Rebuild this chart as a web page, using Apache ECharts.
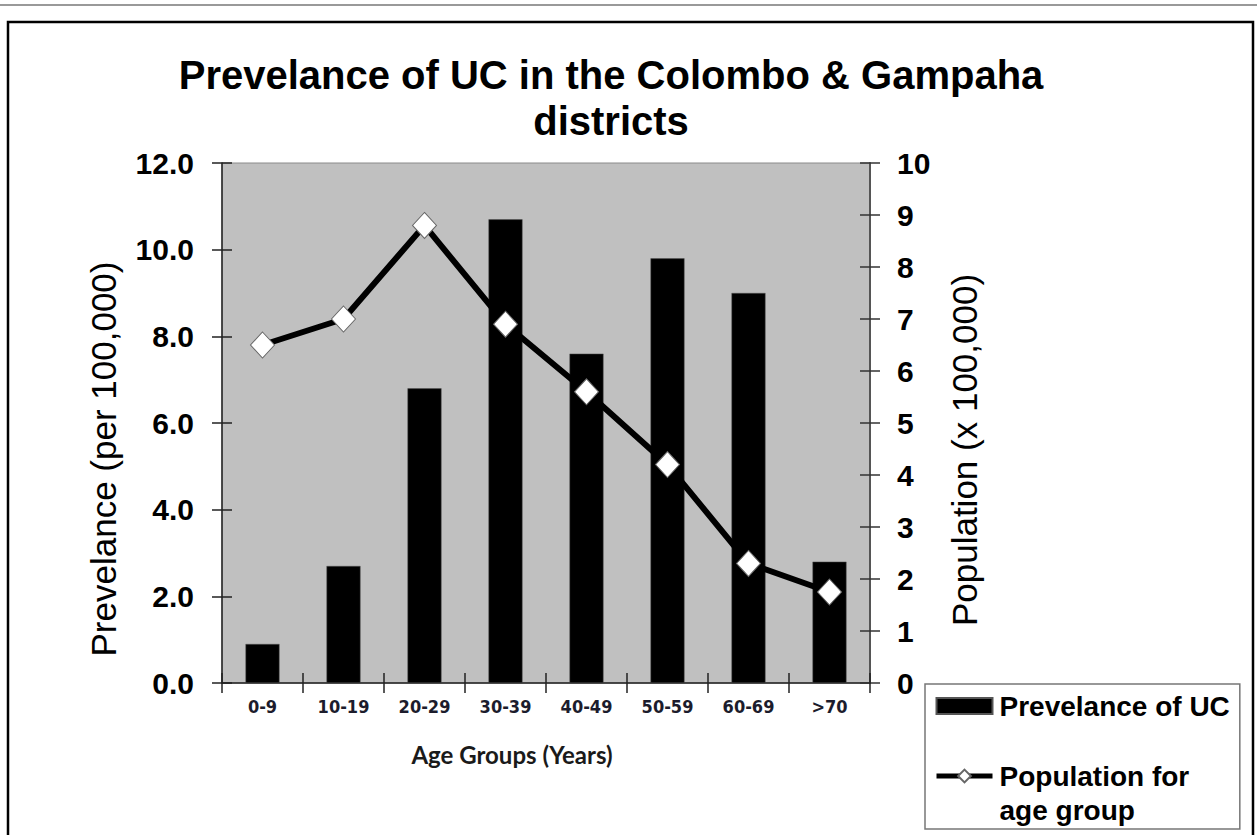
<!DOCTYPE html>
<html>
<head>
<meta charset="utf-8">
<title>Prevelance of UC</title>
<script src="https://cdn.jsdelivr.net/npm/echarts@6/dist/echarts.min.js"></script>
<style>
  html, body { margin: 0; padding: 0; background: #fff; }
  #chart { width: 1257px; height: 835px; }
</style>
</head>
<body>
<div id="chart"></div>
<script>
// 年龄组
var categories = ['0-9', '10-19', '20-29', '30-39', '40-49', '50-59', '60-69', '>70'];
// 患病率 (per 100,000) - left axis
var prevalence = [0.9, 2.7, 6.8, 10.7, 7.6, 9.8, 9.0, 2.8];
// 人口 (x 100,000) - right axis
var population = [6.5, 7.0, 8.8, 6.9, 5.6, 4.2, 2.3, 1.75];

var barName = 'Prevelance of UC';
var lineName = 'Population for age group';

window.onload = function () {
    var chart = echarts.init(document.getElementById('chart'), null, { renderer: 'svg' });

    var arial = "'Liberation Sans', Arial, sans-serif";
    var narrow = "'DejaVu Sans Condensed', 'Liberation Sans Narrow', sans-serif";

    var option = {
        backgroundColor: '#fff',
        animation: false,
        title: [
            {
                text: 'Prevelance of UC in the Colombo & Gampaha\ndistricts',
                left: 611,
                top: 52,
                padding: 0,
                textAlign: 'center',
                textStyle: { fontFamily: arial, fontWeight: 'bold', fontSize: 40, lineHeight: 46, color: '#000' }
            },
            {
                text: 'Age Groups (Years)',
                left: 512,
                top: 742,
                padding: 0,
                textAlign: 'center',
                textStyle: { fontFamily: 'Lato, sans-serif', fontWeight: 'bold', fontSize: 24, color: '#1a1a1a' }
            }
        ],
        grid: {
            left: 222, right: 387, top: 163, bottom: 152,
            show: true,
            backgroundColor: '#c0c0c0',
            borderColor: '#8a8a8a',
            borderWidth: 1,
            outerBoundsMode: 'none'
        },
        legend: {
            orient: 'vertical',
            left: 925,
            top: 684,
            height: 400,
            padding: [5, 10, 2, 9],
            itemGap: 2,
            itemWidth: 56,
            itemHeight: 16,
            borderColor: '#777',
            borderWidth: 1.5,
            backgroundColor: '#fff',
            lineStyle: { width: 5 },
            textStyle: { fontFamily: arial, fontWeight: 'bold', fontSize: 28, lineHeight: 34, color: '#000', padding: [0, 0, 0, 2] },
            formatter: function (name) {
                // 第二项分两行显示，图标对齐第一行
                return name === lineName ? '\nPopulation for\nage group' : name;
            },
            data: [{ name: barName, icon: 'rect' }, { name: lineName }]
        },
        xAxis: [
            {
                type: 'category',
                data: categories,
                position: 'bottom',
                axisLine: { lineStyle: { color: '#222', width: 1.5 } },
                axisTick: { show: true, inside: false, length: 10, lineStyle: { color: '#222', width: 1.5 } },
                axisLabel: { fontFamily: narrow, fontWeight: 'bold', fontSize: 18, color: '#1c1c2c', margin: 14, interval: 0 },
                splitLine: { show: false }
            },
            {
                // 向内的刻度（十字刻度）
                type: 'category',
                data: categories,
                position: 'bottom',
                axisLine: { show: false },
                axisTick: { show: true, inside: true, length: 10, lineStyle: { color: '#222', width: 1.5 } },
                axisLabel: { show: false },
                splitLine: { show: false }
            }
        ],
        yAxis: [
            {
                type: 'value',
                position: 'left',
                min: 0, max: 12, interval: 2,
                name: 'Prevelance (per 100,000)',
                nameLocation: 'middle',
                nameGap: 101,
                nameRotate: 90,
                nameTextStyle: { fontFamily: arial, fontSize: 35, color: '#000', padding: [0, 72, 0, 0] },
                axisLine: { show: true, lineStyle: { color: '#222', width: 1.5 } },
                axisTick: { show: true, inside: false, length: 10, lineStyle: { color: '#222', width: 1.5 } },
                axisLabel: {
                    fontFamily: arial, fontWeight: 'bold', fontSize: 30, color: '#000', margin: 28,
                    formatter: function (v) { return v.toFixed(1); }
                },
                splitLine: { show: false }
            },
            {
                type: 'value',
                position: 'right',
                min: 0, max: 10, interval: 1,
                name: 'Population (x 100,000)',
                nameLocation: 'middle',
                nameGap: 77,
                nameRotate: 90,
                nameTextStyle: { fontFamily: arial, fontSize: 35, color: '#000', padding: [0, 54, 0, 0] },
                axisLine: { show: true, lineStyle: { color: '#555', width: 2 } },
                axisTick: { show: true, inside: false, length: 10, lineStyle: { color: '#333', width: 1.5 } },
                axisLabel: { fontFamily: arial, fontWeight: 'bold', fontSize: 30, color: '#000', margin: 27 },
                splitLine: { show: false }
            },
            {
                type: 'value',
                position: 'left',
                min: 0, max: 12, interval: 2,
                axisLine: { show: false },
                axisTick: { show: true, inside: true, length: 10, lineStyle: { color: '#222', width: 1.5 } },
                axisLabel: { show: false },
                splitLine: { show: false }
            },
            {
                type: 'value',
                position: 'right',
                min: 0, max: 10, interval: 1,
                axisLine: { show: false },
                axisTick: { show: true, inside: true, length: 10, lineStyle: { color: '#333', width: 1.5 } },
                axisLabel: { show: false },
                splitLine: { show: false }
            }
        ],
        series: [
            {
                name: barName,
                type: 'bar',
                xAxisIndex: 0,
                yAxisIndex: 0,
                barWidth: 34,
                itemStyle: { color: '#000', borderColor: '#555', borderWidth: 0.5 },
                data: prevalence
            },
            {
                name: lineName,
                type: 'line',
                xAxisIndex: 0,
                yAxisIndex: 1,
                symbol: 'diamond',
                symbolSize: [24, 26],
                lineStyle: { color: '#000', width: 6 },
                itemStyle: { color: '#fff', borderColor: '#666', borderWidth: 1 },
                z: 5,
                data: population
            }
        ],
        graphic: [
            {
                type: 'line',
                shape: { x1: 0, y1: 5, x2: 1257, y2: 5 },
                style: { stroke: '#777', lineWidth: 1.5 },
                silent: true
            },
            {
                type: 'rect',
                shape: { x: 8, y: 22, width: 1245, height: 900 },
                style: { fill: 'none', stroke: '#000', lineWidth: 2.5 },
                silent: true
            }
        ]
    };

    chart.setOption(option);
};
</script>
</body>
</html>
